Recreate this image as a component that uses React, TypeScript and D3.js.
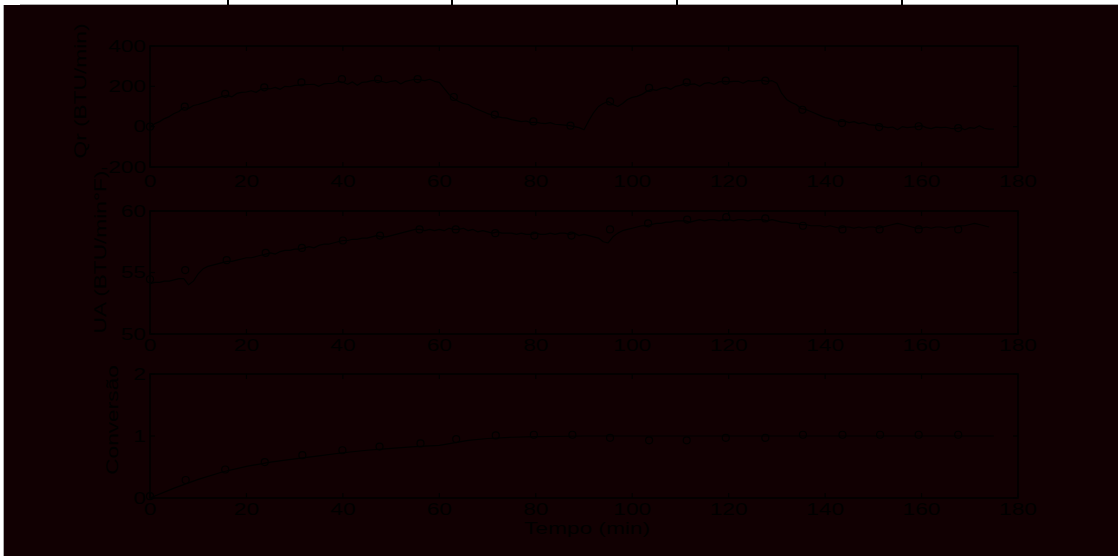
import React from "react";
import * as d3 from "d3";

// ---------- DATA ----------
const xTicks = [0, 20, 40, 60, 80, 100, 120, 140, 160, 180];
const qrTicks = [-200, 0, 200, 400];
const uaTicks = [50, 55, 60];
const convTicks = [0, 1, 2];

// Qr (BTU/min), one value per minute from t = 0
const qrValues = [
  0, 15, 25, 40, 50, 65, 75, 95, 90, 105, 110, 118, 125, 135, 142, 150, 155, 148, 165, 170,
  172, 178, 170, 185, 190, 188, 195, 185, 200, 198, 205, 206, 208, 209, 210, 200, 212, 214, 215, 225,
  220, 210, 222, 205, 220, 222, 228, 230, 225, 218, 225, 228, 212, 225, 230, 235, 232, 228, 235, 225,
  220, 190, 160, 140, 125, 115, 110, 95, 85, 75, 65, 58, 50, 45, 42, 35, 30, 25, 28, 20,
  22, 18, 15, 20, 12, 10, 8, 5, 0, -5, -15, 30, 70, 100, 115, 125, 110, 100, 115, 135,
  145, 150, 160, 175, 185, 180, 190, 195, 185, 200, 205, 215, 210, 212, 200, 215, 218, 210, 222, 225,
  222, 225, 225, 215, 228, 225, 228, 230, 225, 228, 215, 165, 135, 120, 110, 90, 85, 75, 65, 55,
  45, 40, 30, 25, 28, 20, 25, 15, 20, 10, 8, 5, 0, -5, -2, -15, 0, -5, -2, 0,
  5, -5, -10, -2, -5, -3, -8, -10, -5, -15, -5, -8, 5, -8, -12, -12,
];
const qrMarkerT = [0, 7.2, 15.6, 23.7, 31.4, 39.8, 47.3, 55.5, 63, 71.5, 79.5, 87.2, 95.4, 103.5, 111.3, 119.4, 127.6, 135.3, 143.5, 151.2, 159.4, 167.6];
const qrMarkerV = [0, 99, 163, 195, 220, 236, 236, 236, 147, 60, 26, 5, 125, 192, 220, 228, 228, 84, 18, -2, 2, -7];

// UA (BTU/min°F), one value per minute from t = 0
const uaValues = [
  54.1, 54.2, 54.2, 54.3, 54.3, 54.4, 54.5, 54.5, 54.0, 54.3, 54.9, 55.3, 55.5, 55.6, 55.7, 55.8, 55.9, 55.9, 56.0, 56.1,
  56.2, 56.2, 56.3, 56.4, 56.5, 56.6, 56.5, 56.7, 56.8, 56.8, 56.9, 56.9, 57.0, 57.1, 57.0, 57.2, 57.3, 57.3, 57.4, 57.5,
  57.6, 57.6, 57.7, 57.7, 57.8, 57.8, 57.9, 58.0, 57.9, 57.9, 58.0, 58.1, 58.2, 58.3, 58.4, 58.5, 58.5, 58.4, 58.5, 58.4,
  58.5, 58.4, 58.6, 58.5, 58.5, 58.6, 58.4, 58.5, 58.3, 58.4, 58.3, 58.2, 58.3, 58.2, 58.2, 58.2, 58.1, 58.2, 58.1, 58.1,
  58.2, 58.1, 58.1, 58.2, 58.1, 58.2, 58.2, 58.1, 58.2, 58.0, 58.1, 58.0, 57.9, 57.8, 57.5, 57.4, 57.9, 58.2, 58.4, 58.5,
  58.6, 58.7, 58.8, 58.8, 58.9, 59.0, 59.0, 59.1, 59.1, 59.2, 59.2, 59.2, 59.1, 59.2, 59.3, 59.2, 59.3, 59.3, 59.2, 59.3,
  59.3, 59.2, 59.3, 59.3, 59.2, 59.3, 59.3, 59.3, 59.2, 59.3, 59.2, 59.1, 59.1, 59.0, 59.0, 58.9, 58.9, 58.8, 58.8, 58.8,
  58.7, 58.8, 58.7, 58.6, 58.7, 58.7, 58.6, 58.7, 58.6, 58.7, 58.7, 58.6, 58.7, 58.8, 58.9, 59.0, 58.9, 58.8, 58.7, 58.6,
  58.6, 58.7, 58.6, 58.7, 58.7, 58.6, 58.7, 58.7, 58.8, 58.8, 58.9, 59.0, 58.9, 58.8, 58.7,
];
const uaMarkerT = [0, 7.3, 15.9, 24, 31.5, 40, 47.7, 55.9, 63.4, 71.6, 79.7, 87.4, 95.4, 103.3, 111.4, 119.5, 127.6, 135.4, 143.6, 151.3, 159.4, 167.6];
const uaMarkerV = [54.45, 55.2, 56.0, 56.6, 57.0, 57.6, 58.0, 58.5, 58.5, 58.2, 58.0, 58.0, 58.5, 59.0, 59.3, 59.5, 59.4, 58.8, 58.5, 58.5, 58.5, 58.5];

// Conversão
const convLineT = [0, 5, 10, 15, 20, 25, 30, 35, 40, 45, 50, 55, 58, 60, 63, 66, 70, 75, 80, 90, 175];
const convLineV = [0, 0.16, 0.3, 0.42, 0.51, 0.58, 0.63, 0.68, 0.73, 0.77, 0.8, 0.83, 0.84, 0.85, 0.89, 0.93, 0.96, 0.98, 0.99, 1.0, 1.0];
const convMarkerT = [0, 7.4, 15.6, 23.8, 31.6, 39.9, 47.6, 56.1, 63.5, 71.7, 79.6, 87.6, 95.4, 103.5, 111.3, 119.4, 127.6, 135.4, 143.6, 151.4, 159.4, 167.6];
const convMarkerV = [0.03, 0.29, 0.46, 0.58, 0.69, 0.77, 0.83, 0.88, 0.95, 1.01, 1.02, 1.02, 0.97, 0.93, 0.93, 0.97, 0.97, 1.02, 1.02, 1.02, 1.02, 1.02];

const headerDividers = [228, 452, 677, 902];

// ---------- LAYOUT ----------
const W = 1118;
const H = 556;
const BG = "rgb(17,0,2)";
const INK = "#000";
const FS = 16;
const SX = 1.42;
const left = 150;
const right = 1018;
const TL = 5;

const x = d3.scaleLinear().domain([0, 180]).range([left, right]);

type Panel = {
  top: number;
  bottom: number;
  domain: [number, number];
  yTicks: number[];
  title: string;
  titleX: number;
  titleY: number;
  xLabelDy: number;
  lineT: number[];
  lineV: number[];
  markT: number[];
  markV: number[];
};

const idx = (arr: number[]) => arr.map((_, i) => i);

const panels: Panel[] = [
  {
    top: 46, bottom: 167, domain: [-200, 400], yTicks: qrTicks,
    title: "Qr (BTU/min)", titleX: 80, titleY: 91, xLabelDy: 14,
    lineT: idx(qrValues), lineV: qrValues, markT: qrMarkerT, markV: qrMarkerV,
  },
  {
    top: 211, bottom: 334, domain: [50, 60], yTicks: uaTicks,
    title: "UA (BTU/min°F)", titleX: 100, titleY: 252, xLabelDy: 11,
    lineT: idx(uaValues), lineV: uaValues, markT: uaMarkerT, markV: uaMarkerV,
  },
  {
    top: 374, bottom: 498, domain: [0, 2], yTicks: convTicks,
    title: "Conversão", titleX: 112, titleY: 420, xLabelDy: 11,
    lineT: convLineT, lineV: convLineV, markT: convMarkerT, markV: convMarkerV,
  },
];

function Txt(props: { x: number; y: number; anchor?: string; rotate?: number; children: React.ReactNode }) {
  const { x: tx, y: ty, anchor = "middle", rotate = 0, children } = props;
  return (
    <text
      transform={`translate(${tx},${ty}) rotate(${rotate}) scale(${SX},1)`}
      textAnchor={anchor}
      dominantBaseline="central"
      fontFamily="'Liberation Sans', Arial, sans-serif"
      fontSize={FS}
      fill={INK}
    >
      {children}
    </text>
  );
}

function PanelView({ p }: { p: Panel }) {
  const y = d3.scaleLinear().domain(p.domain).range([p.bottom, p.top]);
  const pts: [number, number][] = p.lineT.map((t, i) => [t, p.lineV[i]]);
  const line = d3
    .line<[number, number]>()
    .x((d) => x(d[0]))
    .y((d) => y(d[1]));
  return (
    <g>
      <path d={line(pts) || ""} fill="none" stroke={INK} strokeWidth={1.2} strokeLinejoin="round" />
      {p.markT.map((t, i) => (
        <circle key={i} cx={x(t)} cy={y(p.markV[i])} r={3.5} fill="none" stroke={INK} strokeWidth={1.2} />
      ))}
      <rect x={left} y={p.top} width={right - left} height={p.bottom - p.top} fill="none" stroke={INK} strokeWidth={1.6} />
      {xTicks.map((t) => (
        <g key={"xt" + t}>
          <line x1={x(t)} x2={x(t)} y1={p.bottom} y2={p.bottom - TL} stroke={INK} strokeWidth={1.2} />
          <line x1={x(t)} x2={x(t)} y1={p.top} y2={p.top + TL} stroke={INK} strokeWidth={1.2} />
          <Txt x={x(t)} y={p.bottom + p.xLabelDy}>{t}</Txt>
        </g>
      ))}
      {p.yTicks.map((v) => (
        <g key={"yt" + v}>
          <line x1={left} x2={left + TL} y1={y(v)} y2={y(v)} stroke={INK} strokeWidth={1.2} />
          <line x1={right} x2={right - TL} y1={y(v)} y2={y(v)} stroke={INK} strokeWidth={1.2} />
          <Txt x={left - 4} y={y(v)} anchor="end">{v}</Txt>
        </g>
      ))}
      <Txt x={p.titleX} y={p.titleY} rotate={-90}>{p.title}</Txt>
    </g>
  );
}

export default function App() {
  return (
    <svg
      width={W}
      height={H}
      viewBox={`0 0 ${W} ${H}`}
      style={{ position: "absolute", left: 0, top: 0, display: "block" }}
    >
      <rect x={0} y={0} width={W} height={H} fill="#fff" />
      <rect x={4} y={5} width={W - 4} height={H - 5} fill={BG} />
      <line x1={3.5} x2={3.5} y1={5} y2={H} stroke="#aaa" strokeWidth={1} />
      <line x1={20} x2={W} y1={4.5} y2={4.5} stroke="#aaa" strokeWidth={1} />
      {headerDividers.map((hx) => (
        <line key={hx} x1={hx} x2={hx} y1={0} y2={5} stroke="#000" strokeWidth={2} />
      ))}
      {panels.map((p, i) => (
        <PanelView key={i} p={p} />
      ))}
      <Txt x={587} y={528}>Tempo (min)</Txt>
    </svg>
  );
}
